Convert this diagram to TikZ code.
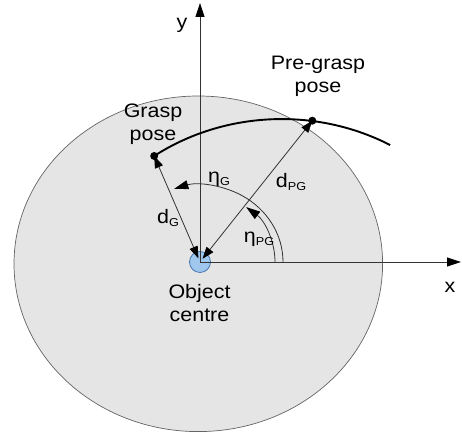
\documentclass[tikz,border=0pt]{standalone}
\usepackage{fontspec}
\setmainfont[FakeStretch=1.1]{Liberation Sans}
\usetikzlibrary{arrows.meta}
\definecolor{diskgray}{RGB}{229,229,229}
\definecolor{diskedge}{RGB}{100,100,100}
\definecolor{centreblue}{RGB}{160,200,238}
\definecolor{centreedge}{RGB}{70,120,175}
\newcommand{\lbl}{\fontsize{19.5}{23}\selectfont}
\newcommand{\sbs}[1]{\raisebox{-3.5pt}{\fontsize{11.5}{11.5}\selectfont #1}}
\begin{document}
\begin{tikzpicture}[x=1pt,y=1pt,
  thin line/.style={draw=black!80, line width=0.8pt},
  tip/.style={-{Triangle[length=14pt,width=9pt,black]}},
  dtip/.style={{Triangle[length=12pt,width=8.5pt,black]}-{Triangle[length=12pt,width=8.5pt,black]}},
  txt/.style={font=\lbl, align=center, inner sep=0pt},
  pose/.style={fill=black}]
\useasboundingbox (0,0) rectangle (463,435);
\coordinate (O) at (200,173);
\coordinate (D) at (198.3,171.2);
\coordinate (G) at (154.2,279);
\coordinate (PG) at (312.3,314.3);
\coordinate (Ytop) at (200,432);
\coordinate (Xend) at (461,173);
% disk
\fill[diskgray, draw=diskedge, line width=0.7pt] (D) ellipse [x radius=184.3pt, y radius=167.8pt];
% object centre
\filldraw[fill=centreblue, draw=centreedge, line width=0.8pt] (O) circle (10.5pt);
% axes
\draw[thin line, tip] (O) -- (Ytop);
\draw[thin line, tip] (O) -- (Xend);
% trajectory
\draw[line width=1.9pt] (G) arc[start angle=125.35, end angle=60.5, x radius=220.3pt, y radius=200.3pt] coordinate (E);
% distance arrows
\draw[thin line, dtip, shorten <=4pt] (O) -- (G);
\draw[thin line, dtip, shorten <=4pt] (O) -- (PG);
% angle arcs
\draw[thin line, tip] ([xshift=83pt]O) arc[start angle=0, end angle=108, x radius=83pt, y radius=77pt];
\draw[thin line, tip] ([xshift=75pt]O) arc[start angle=0, end angle=52, x radius=75pt, y radius=69.6pt];
% pose dots
\fill[pose] (G) circle (4pt);
\fill[pose] (PG) circle (4pt);
% labels
\node[txt] (ylab) at (182,410) {y};
\node[txt] (xlab) at (450,148) {x};
\node[txt] (grasp) at (153,310.5) {Grasp\\pose};
\node[txt] (pregrasp) at (318,358.5) {Pre-grasp\\pose};
\node[txt] (centre) at (199.5,131.5) {Object\\centre};
\node[txt] (dG) at (168,217) {d\sbs{G}};
\node[txt] (dPG) at (291,253) {d\sbs{PG}};
\node[txt] (etaG) at (219,256) {η\sbs{G}};
\node[txt] (etaPG) at (259,196) {η\sbs{PG}};
\end{tikzpicture}
\end{document}
